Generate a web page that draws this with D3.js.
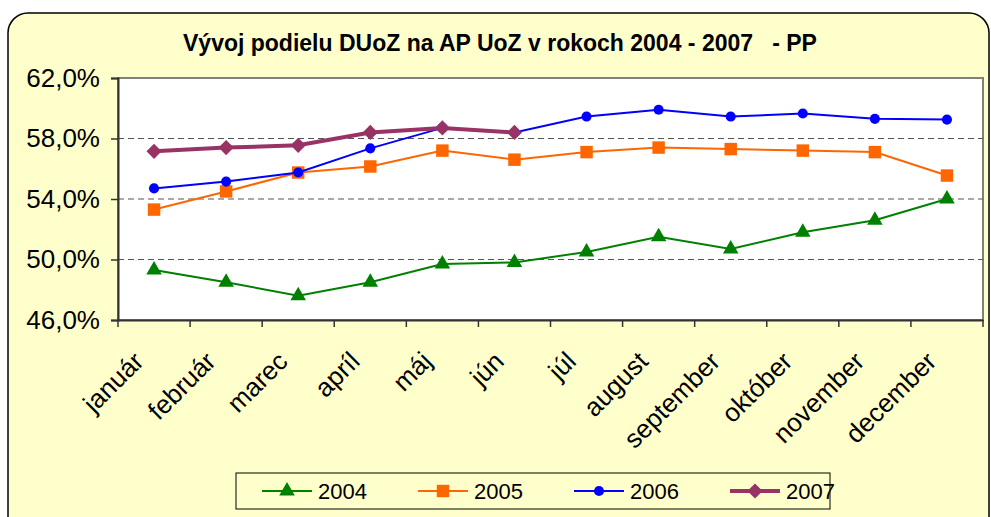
<!DOCTYPE html>
<html>
<head>
<meta charset="utf-8">
<script src="https://cdn.jsdelivr.net/npm/d3@7"></script>
<style>
	body { margin: 0; background: #fff; }
	svg { display: block; font-family: Arial, 'Liberation Sans', sans-serif; }
</style>
</head>
<body>
<div id="chart"></div>
<script>
// months on x axis
const months = ['január', 'február', 'marec', 'apríl', 'máj', 'jún', 'júl', 'august', 'september', 'október', 'november', 'december']
const yTicks = [46, 50, 54, 58, 62]

// share in % per year
const v2004 = [49.3, 48.5, 47.6, 48.5, 49.7, 49.8, 50.5, 51.5, 50.7, 51.8, 52.6, 54.0]
const v2005 = [53.3, 54.5, 55.75, 56.15, 57.2, 56.6, 57.1, 57.4, 57.3, 57.2, 57.1, 55.55]
const v2006 = [54.7, 55.15, 55.75, 57.35, 58.7, 58.4, 59.45, 59.9, 59.45, 59.65, 59.3, 59.25]
const v2007 = [57.15, 57.4, 57.55, 58.4, 58.7, 58.4]

const series = [
	{ name: '2004', values: v2004, color: '#008000', width: 2, symbol: d3.symbolTriangle, size: 105, rot: 0 },
	{ name: '2005', values: v2005, color: '#FF6600', width: 2, symbol: d3.symbolSquare, size: 155, rot: 0 },
	{ name: '2006', values: v2006, color: '#0000FF', width: 2, symbol: d3.symbolCircle, size: 80, rot: 0 },
	{ name: '2007', values: v2007, color: '#993366', width: 4, symbol: d3.symbolSquare, size: 115, rot: 45 },
]

const width = 991
const height = 517
const margin = { left: 118, right: 8, top: 78, bottom: 197 }

const svg = d3.select('#chart').append('svg').attr('width', width).attr('height', height)

// outer chart frame
svg.append('rect')
	.attr('x', 8).attr('y', 13)
	.attr('width', 981).attr('height', 540)
	.attr('rx', 20).attr('ry', 20)
	.attr('fill', '#FFFFCC')
	.attr('stroke', '#000').attr('stroke-width', 1.5)

svg.append('text')
	.attr('x', 500).attr('y', 51)
	.attr('text-anchor', 'middle')
	.attr('font-size', 23).attr('font-weight', 'bold')
	.attr('xml:space', 'preserve')
	.text('Vývoj podielu DUoZ na AP UoZ v rokoch 2004 - 2007   - PP')

const x = d3.scaleBand().domain(months).range([margin.left, width - margin.right])
const y = d3.scaleLinear().domain([46, 62]).range([height - margin.bottom, margin.top])
const cx = d => x(d) + x.bandwidth() / 2

// plot area
svg.append('rect')
	.attr('x', margin.left).attr('y', margin.top)
	.attr('width', width - margin.left - margin.right)
	.attr('height', y(46) - y(62))
	.attr('fill', '#fff')
	.attr('stroke', '#808080').attr('stroke-width', 2)

// dashed grid
svg.append('g')
	.selectAll('line')
	.data(yTicks.filter(t => t > 46 && t < 62))
	.join('line')
	.attr('x1', margin.left).attr('x2', width - margin.right)
	.attr('y1', d => y(d)).attr('y2', d => y(d))
	.attr('stroke', '#555').attr('stroke-width', 1.2)
	.attr('stroke-dasharray', '6,4')

// y axis
const yAxis = svg.append('g')
	.attr('transform', `translate(${margin.left},0)`)
	.call(d3.axisLeft(y).tickValues(yTicks).tickSize(7).tickPadding(11)
		.tickFormat(d => d3.format('.1f')(d).replace('.', ',') + '%'))
yAxis.select('.domain').attr('stroke', '#333').attr('stroke-width', 2)
yAxis.selectAll('.tick line').attr('stroke', '#333').attr('stroke-width', 1.5)
yAxis.selectAll('text').attr('font-size', 26).attr('fill', '#000').attr('font-family', 'Arial, sans-serif')

// x axis
const xAxis = svg.append('g')
	.attr('transform', `translate(0,${y(46)})`)
	.call(d3.axisBottom(x).tickSize(0).tickFormat(''))
xAxis.select('.domain').attr('stroke', '#333').attr('stroke-width', 2)
svg.append('g')
	.selectAll('line')
	.data(d3.range(months.length + 1))
	.join('line')
	.attr('x1', i => margin.left + i * x.step()).attr('x2', i => margin.left + i * x.step())
	.attr('y1', y(46)).attr('y2', y(46) + 7)
	.attr('stroke', '#333').attr('stroke-width', 1.5)

svg.append('g')
	.selectAll('text')
	.data(months)
	.join('text')
	.attr('transform', d => `translate(${cx(d) - 9},${y(46) + 43}) rotate(-45)`)
	.attr('text-anchor', 'end')
	.attr('font-size', 26)
	.text(d => d)

// lines + markers
const line = d3.line().x((d, i) => cx(months[i])).y(d => y(d))
series.forEach(s => {
	svg.append('path')
		.datum(s.values)
		.attr('fill', 'none')
		.attr('stroke', s.color)
		.attr('stroke-width', s.width)
		.attr('d', line)
	svg.append('g')
		.selectAll('path')
		.data(s.values)
		.join('path')
		.attr('transform', (d, i) => `translate(${cx(months[i])},${y(d)}) rotate(${s.rot})`)
		.attr('d', d3.symbol().type(s.symbol).size(s.size))
		.attr('fill', s.color)
})

// legend
svg.append('rect')
	.attr('x', 236).attr('y', 473).attr('width', 594).attr('height', 36)
	.attr('fill', '#FFFFCC').attr('stroke', '#000').attr('stroke-width', 1)
const legend = svg.append('g')
const lx = d3.scalePoint().domain(series.map(s => s.name)).range([262, 730])
series.forEach(s => {
	const g = legend.append('g').attr('transform', `translate(${lx(s.name)},491)`)
	g.append('line').attr('x1', 0).attr('x2', 50)
		.attr('stroke', s.color).attr('stroke-width', s.width)
	g.append('path').attr('transform', `translate(25,0) rotate(${s.rot})`)
		.attr('d', d3.symbol().type(s.symbol).size(s.size))
		.attr('fill', s.color)
	g.append('text').attr('x', 56).attr('y', 8)
		.attr('font-size', 22).text(s.name)
})
</script>
</body>
</html>
